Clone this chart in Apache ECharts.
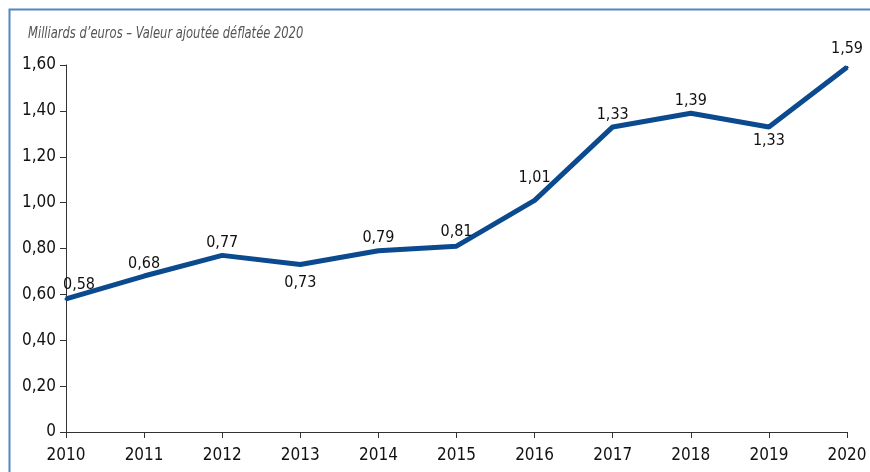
<!DOCTYPE html>
<html><head><meta charset="utf-8">
<script src="https://cdn.jsdelivr.net/npm/echarts@6/dist/echarts.min.js"></script>
<style>html,body{margin:0;padding:0;background:#fff}#c{width:870px;height:472px}</style>
</head><body><div id="c"></div>
<script>
var years = ['2010','2011','2012','2013','2014','2015','2016','2017','2018','2019','2020'];
var values = [0.58,0.68,0.77,0.73,0.79,0.81,1.01,1.33,1.39,1.33,1.59];
var labelBelow = [false,false,false,true,false,false,false,false,false,true,false];
var yTicks = [0,0.2,0.4,0.6,0.8,1.0,1.2,1.4,1.6];
var titleText = 'Milliards d\u2019euros \u2013 Valeur ajout\u00e9e d\u00e9flat\u00e9e 2020';

var FONT = '"Liberation Sans Narrow","DejaVu Sans Condensed",sans-serif';
function fmt(v){return v.toFixed(2).replace('.',',');}
var labelDist = [5,3,3,9,3,5,13,3,3,4,9];
var data = values.map(function(v,i){
  return {value:v, label:{show:true, position: labelBelow[i]?'bottom':'top', distance:labelDist[i]}};
});
var chart = echarts.init(document.getElementById('c'));
chart.setOption({
  animation:false,
  grid:{left:66,right:23,top:65,bottom:40},
  graphic:[
    {type:'rect',shape:{x:9.5,y:9.5,width:900,height:500},style:{fill:null,stroke:'#5685c0',lineWidth:2}},
    {type:'text',x:28,y:26,scaleX:0.8,style:{text:titleText,font:'italic 16px '+FONT,fill:'#555'}}
  ],
  xAxis:{type:'category',data:years,boundaryGap:false,
    axisLine:{lineStyle:{color:'#333',width:1}},
    axisTick:{show:true,length:6,alignWithLabel:true,lineStyle:{color:'#333'}},
    axisLabel:{fontFamily:FONT,fontSize:17,color:'#111',margin:15},
    splitLine:{show:false}},
  yAxis:{type:'value',min:0,max:1.6,interval:0.2,
    axisLine:{show:true,lineStyle:{color:'#333',width:1}},
    axisTick:{show:true,length:6,lineStyle:{color:'#333'}},
    axisLabel:{fontFamily:FONT,fontSize:17,color:'#111',margin:10,padding:[0,0,8,0],
      formatter:function(v){return v===0?'0':fmt(v);}},
    splitLine:{show:false}},
  series:[{type:'line',data:data,symbol:'circle',symbolSize:3,showSymbol:true,
    itemStyle:{color:'#0b4a8f'},
    lineStyle:{color:'#0b4a8f',width:5},
    label:{show:true,fontFamily:FONT,fontSize:16,color:'#111',
      formatter:function(p){return fmt(p.value);}},
    labelLayout:function(p){ return p.dataIndex===0 ? {dx:13, hideOverlap:false} : {hideOverlap:false}; }}]
});
</script></body></html>
